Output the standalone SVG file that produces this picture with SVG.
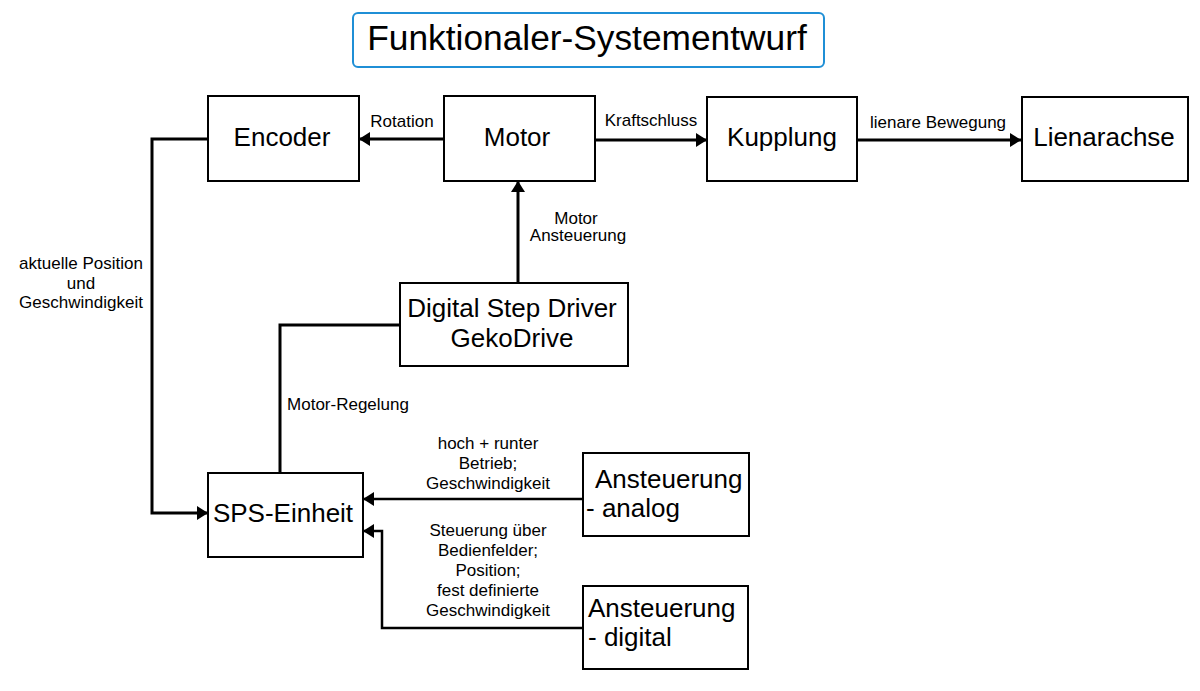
<svg xmlns="http://www.w3.org/2000/svg" width="1200" height="691" viewBox="0 0 1200 691">
<style>
  .box{fill:#fff;stroke:#000;stroke-width:2}
  .big{font-family:"Liberation Sans",Arial,sans-serif;font-size:26px;fill:#000}
  .sm{font-family:"Liberation Sans",Arial,sans-serif;font-size:17px;fill:#000}
  .c{text-anchor:middle}
  .conn{fill:none;stroke:#000;stroke-width:3}
  .thin{stroke-width:2.5}
</style>
<defs>
  <marker id="ah" markerUnits="userSpaceOnUse" markerWidth="12" markerHeight="14" refX="11" refY="7" orient="auto">
    <path d="M0,0 L11,7 L0,14 z" fill="#000"/>
  </marker>
</defs>
<rect width="1200" height="691" fill="#fff"/>
<g id="title">
  <rect x="353" y="13" width="471" height="54" rx="5" fill="#fff" stroke="#1f8fd6" stroke-width="2"/>
  <text x="587" y="50" class="c" font-family="Liberation Sans,Arial,sans-serif" font-size="35.3">Funktionaler-Systementwurf</text>
</g>
<g id="connectors">
  <path class="conn" d="M444,139 H359" marker-end="url(#ah)"/>
  <path class="conn" d="M595,140 H707" marker-end="url(#ah)"/>
  <path class="conn" d="M857,140 H1021" marker-end="url(#ah)"/>
  <path class="conn" d="M518,283 V181" marker-end="url(#ah)"/>
  <path class="conn" d="M208,139 H152 V513 H208" marker-end="url(#ah)"/>
  <path class="conn" d="M400,325 H280 V473"/>
  <path class="conn thin" d="M583,499 H363" marker-end="url(#ah)"/>
  <path class="conn thin" d="M583,628 H382 V531 H363" marker-end="url(#ah)"/>
  <text x="402" y="127" class="sm c">Rotation</text>
  <text x="651" y="126" class="sm c">Kraftschluss</text>
  <text x="938" y="128" class="sm c">lienare Bewegung</text>
  <text x="576" y="224" class="sm c">Motor</text>
  <text x="578" y="241" class="sm c">Ansteuerung</text>
  <text x="81" y="269" class="sm c">aktuelle Position</text>
  <text x="81" y="289" class="sm c">und</text>
  <text x="81" y="308" class="sm c">Geschwindigkeit</text>
  <text x="348" y="410" class="sm c">Motor-Regelung</text>
  <text x="488" y="449" class="sm c">hoch + runter</text>
  <text x="488" y="469" class="sm c">Betrieb;</text>
  <text x="488" y="489" class="sm c">Geschwindigkeit</text>
  <text x="488" y="536" class="sm c">Steuerung über</text>
  <text x="488" y="556" class="sm c">Bedienfelder;</text>
  <text x="488" y="576" class="sm c">Position;</text>
  <text x="488" y="596" class="sm c">fest definierte</text>
  <text x="488" y="616" class="sm c">Geschwindigkeit</text>
</g>
<g id="encoder">
  <rect class="box" x="208" y="96" width="151" height="85"/>
  <text x="282" y="146" class="big c">Encoder</text>
</g>
<g id="motor">
  <rect class="box" x="444" y="96" width="151" height="85"/>
  <text x="517" y="146" class="big c">Motor</text>
</g>
<g id="kupplung">
  <rect class="box" x="707" y="97" width="150" height="84"/>
  <text x="782" y="146" class="big c">Kupplung</text>
</g>
<g id="lienarachse">
  <rect class="box" x="1022" y="97" width="166" height="84"/>
  <text x="1104" y="146" class="big c">Lienarachse</text>
</g>
<g id="driver">
  <rect class="box" x="400" y="283" width="228" height="83"/>
  <text x="512" y="317" class="big c">Digital Step Driver</text>
  <text x="512" y="347" class="big c">GekoDrive</text>
</g>
<g id="sps">
  <rect class="box" x="208" y="473" width="155" height="84"/>
  <text x="283" y="522" class="big c">SPS-Einheit</text>
</g>
<g id="analog">
  <rect class="box" x="583" y="453" width="166" height="83"/>
  <text x="595" y="488" class="big">Ansteuerung</text>
  <text x="586" y="517" class="big">- analog</text>
</g>
<g id="digital">
  <rect class="box" x="583" y="586" width="165" height="83"/>
  <text x="588" y="617" class="big">Ansteuerung</text>
  <text x="588" y="646" class="big">- digital</text>
</g>
</svg>
